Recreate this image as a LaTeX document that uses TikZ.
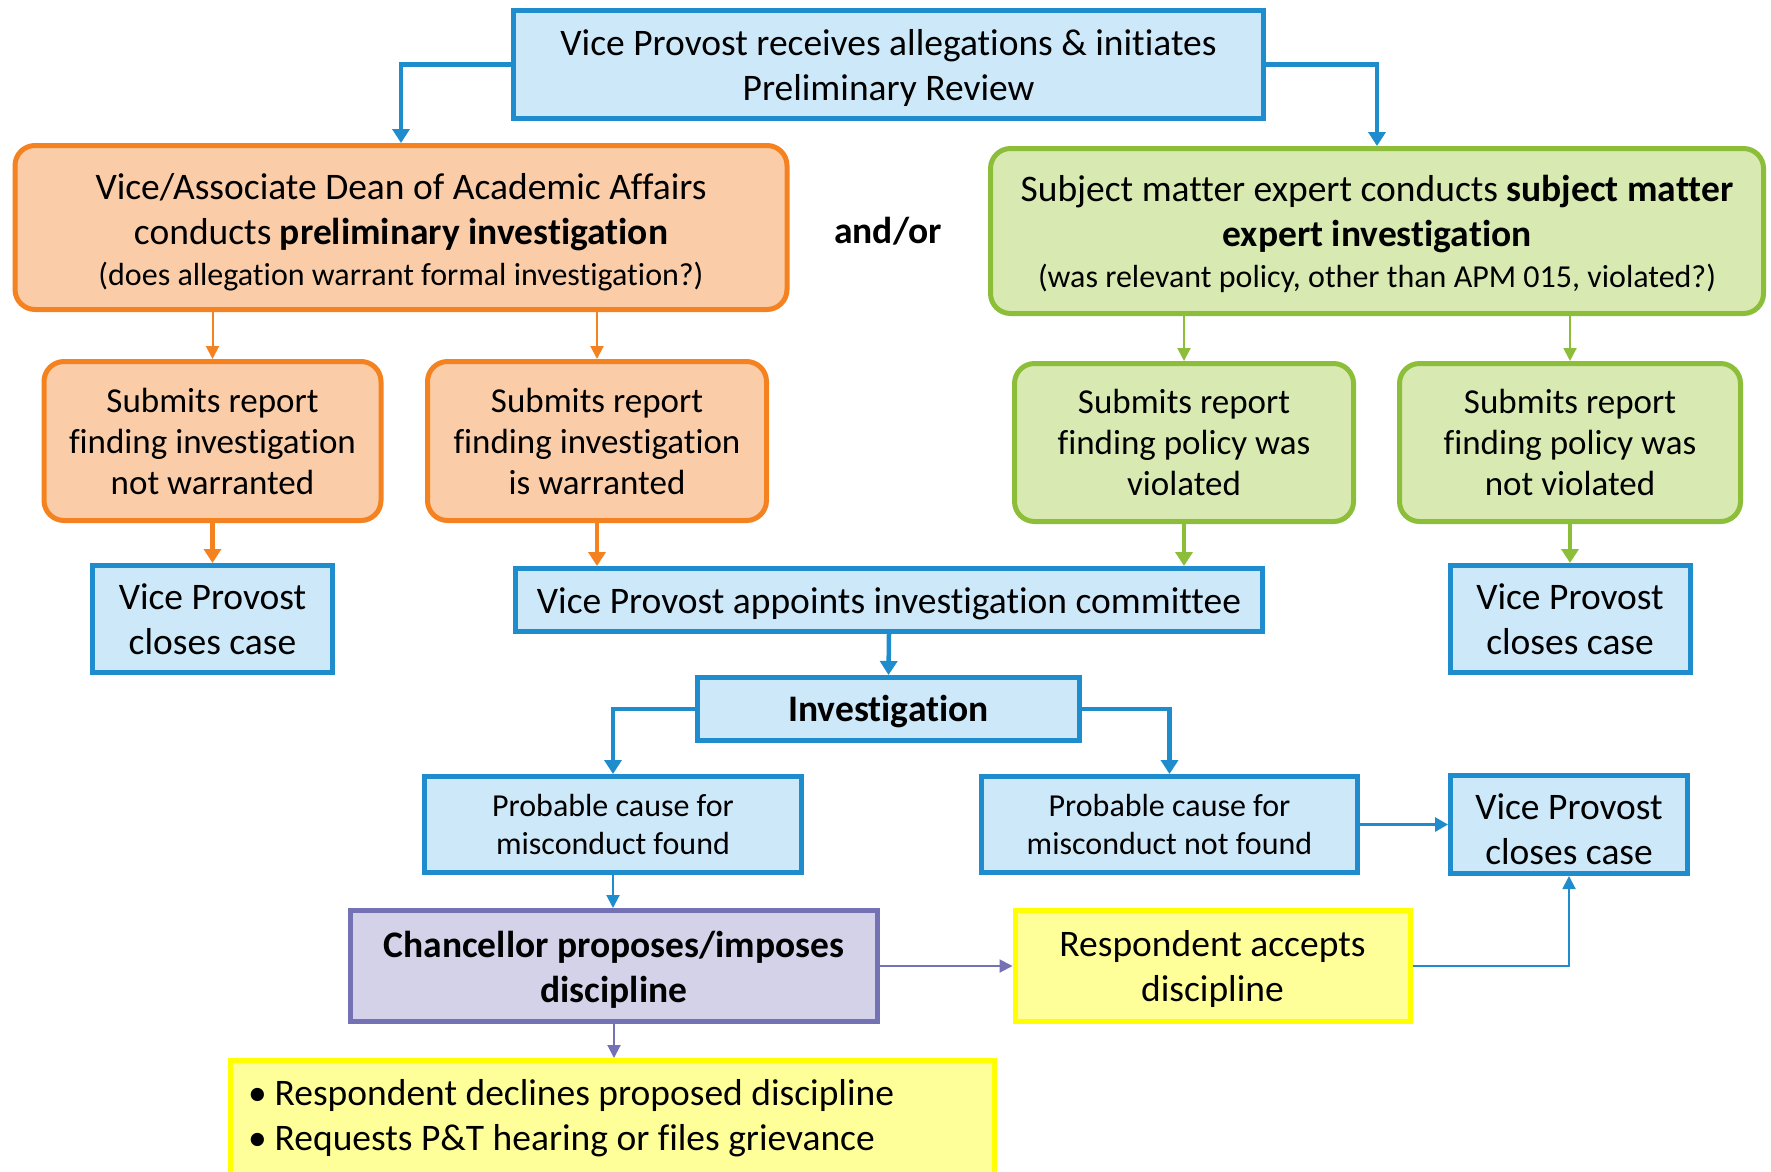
\documentclass[tikz,border=0pt]{standalone}
\usepackage{fontspec}
\setmainfont{Carlito}[Ligatures=NoCommon]
\usetikzlibrary{arrows.meta}
\definecolor{bB}{HTML}{1E8CCD}
\definecolor{bF}{HTML}{CDE8F8}
\definecolor{oB}{HTML}{F58220}
\definecolor{oF}{HTML}{FACDA8}
\definecolor{gB}{HTML}{8DBE3A}
\definecolor{gF}{HTML}{D8EAB2}
\definecolor{pB}{HTML}{7571B5}
\definecolor{pF}{HTML}{D3D2E9}
\definecolor{yB}{HTML}{FFFF00}
\definecolor{yF}{HTML}{FFFF99}
\begin{document}
\begin{tikzpicture}[x=1pt,y=-1pt,
  box/.style={draw, line width=5pt, inner sep=0pt},
  sz/.style 2 args={minimum width=#1pt-5pt, minimum height=#2pt-5pt},
  bluebox/.style={box, draw=bB, fill=bF},
  orangebox/.style={box, draw=oB, fill=oF, rounded corners=20pt},
  greenbox/.style={box, draw=gB, fill=gF, rounded corners=20pt},
  purplebox/.style={box, draw=pB, fill=pF},
  yellowbox/.style={box, draw=yB, fill=yF},
  txt/.style={align=center, inner sep=0pt, font=\fontsize{37.5}{45}\selectfont},
  btxt/.style={txt, font=\fontsize{37.5}{45}\selectfont\bfseries},
  mtxt/.style={txt, font=\fontsize{35}{41}\selectfont},
  stxt/.style={txt, font=\fontsize{32}{38.5}\selectfont},
  thickarr/.style={line width=4.5pt, -{Triangle[length=14pt,width=17pt]}},
  medarr/.style={line width=3pt, -{Triangle[length=13pt,width=14pt]}},
  thinarr/.style={line width=2pt, -{Triangle[length=13pt,width=13pt]}},
]
\useasboundingbox[fill=white] (0,0) rectangle (1771,1171);

% boxes
\node[bluebox, sz={755}{113}] (top) at (888.5,64.5) {};
\node[orangebox, sz={777}{169}] (obig) at (401,227.5) {};
\node[greenbox, sz={778}{170}] (gbig) at (1377,231) {};
\node[orangebox, sz={342}{164}] (osl) at (212.5,441) {};
\node[orangebox, sz={344}{164}] (osr) at (597,441) {};
\node[greenbox, sz={344}{163}] (gsl) at (1184,442.5) {};
\node[greenbox, sz={346}{163}] (gsr) at (1570,442.5) {};
\node[bluebox, sz={245}{112}] (closeL) at (212.5,619) {};
\node[bluebox, sz={752}{68}] (comm) at (889,600) {};
\node[bluebox, sz={245}{112}] (closeR) at (1570,619) {};
\node[bluebox, sz={387}{68}] (inv) at (888.5,709) {};
\node[bluebox, sz={382}{101}] (pf) at (613,824.5) {};
\node[bluebox, sz={381}{101}] (pnf) at (1169.5,824.5) {};
\node[bluebox, sz={242}{103}] (closeR2) at (1569,824.5) {};
\node[purplebox, sz={532}{116}] (chan) at (614,966) {};
\node[yellowbox, sz={400}{116}] (resp) at (1212.5,966) {};
\node[yellowbox, sz={769}{122}] (bul) at (612.5,1119) {};

% texts
\node[txt] (topT) at ([yshift=-3.4pt]top.center)
  {Vice Provost receives allegations \& initiates\\Preliminary Review};
\node[txt] (obigT) at ([yshift=-4.5pt]obig.center)
  {Vice/Associate Dean of Academic Affairs\\conducts \textbf{preliminary investigation}\\[-4pt]{\fontsize{32}{39}\selectfont (does allegation warrant formal investigation?)}};
\node[txt] (gbigT) at ([yshift=-3.4pt]gbig.center)
  {Subject matter expert conducts \textbf{subject matter}\\\textbf{expert investigation}\\[-4pt]{\fontsize{32}{39}\selectfont (was relevant policy, other than APM 015, violated?)}};
\node[btxt] (andor) at (888,231) {and/or};
\node[mtxt] (oslT) at (osl.center) {Submits report\\finding investigation\\not warranted};
\node[mtxt] (osrT) at (osr.center) {Submits report\\finding investigation\\is warranted};
\node[mtxt] (gslT) at (gsl.center) {Submits report\\finding policy was\\violated};
\node[mtxt] (gsrT) at (gsr.center) {Submits report\\finding policy was\\not violated};
\node[txt] (closeLT) at (closeL.center) {Vice Provost\\closes case};
\node[txt] (commT) at ([yshift=-3.4pt]comm.center) {Vice Provost appoints investigation committee};
\node[txt] (closeRT) at (closeR.center) {Vice Provost\\closes case};
\node[btxt] (invT) at ([yshift=-2.3pt]inv.center) {Investigation};
\node[stxt] (pfT) at (pf.center) {Probable cause for\\misconduct found};
\node[stxt] (pnfT) at (pnf.center) {Probable cause for\\misconduct not found};
\node[txt] (closeR2T) at ([yshift=-5pt]closeR2.center) {Vice Provost\\closes case};
\node[btxt] (chanT) at ([yshift=-3.4pt]chan.center) {Chancellor proposes/imposes\\discipline};
\node[txt] (respT) at ([yshift=-3.4pt]resp.center) {Respondent accepts\\discipline};
\node[txt, align=flush left, text width=729pt] (bulT) at ([yshift=1.1pt]bul.center)
  {•\hspace{8pt}Respondent declines proposed discipline\\•\hspace{8pt}Requests P\&T hearing or files grievance};

% connectors
\draw[thickarr, bB] (top.west) -| (obig.north);
\draw[thickarr, bB] (top.east) -| (gbig.north);
\draw[thinarr, oB] (obig.south -| osl.north) -- (osl.north);
\draw[thinarr, oB] (obig.south -| osr.north) -- (osr.north);
\draw[thinarr, gB] (gbig.south -| gsl.north) -- (gsl.north);
\draw[thinarr, gB] (gbig.south -| gsr.north) -- (gsr.north);
\draw[thickarr, oB] (osl.south) -- (closeL.north);
\draw[thickarr, oB] (osr.south) -- (osr.south |- comm.north);
\draw[thickarr, gB] (gsl.south) -- (gsl.south |- comm.north);
\draw[thickarr, gB] (gsr.south) -- (closeR.north);
\draw[thickarr, bB] (comm.south) -- (inv.north);
\draw[thickarr, bB] (inv.west) -| (pf.north);
\draw[thickarr, bB] (inv.east) -| (pnf.north);
\draw[thinarr, bB] (pf.south) -- (chan.north -| pf.south);
\draw[medarr, bB] (pnf.east) -- (closeR2.west |- pnf.east);
\draw[thinarr, pB] (chan.east) -- (resp.west);
\draw[thinarr, bB] (resp.east) -| (closeR2.south);
\draw[thinarr, pB] (chan.south) -- (bul.north -| chan.south);
\end{tikzpicture}
\end{document}
